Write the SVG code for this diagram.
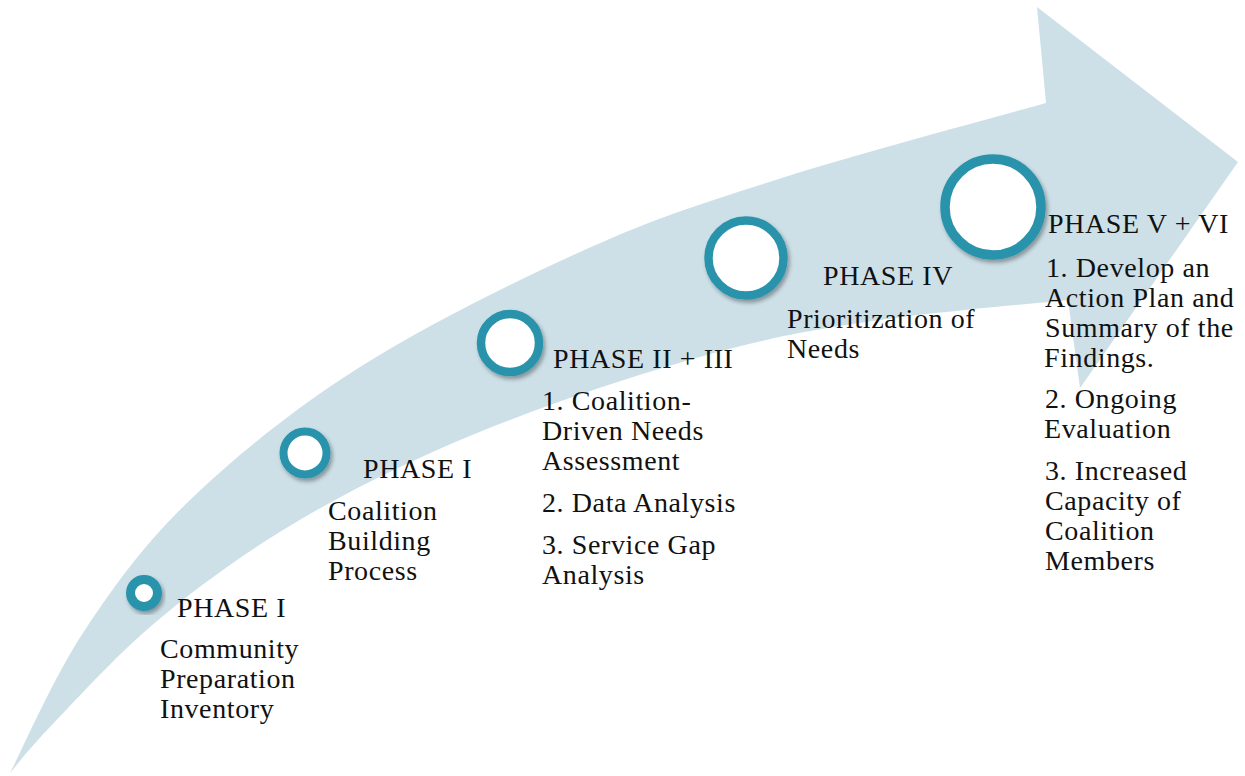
<svg xmlns="http://www.w3.org/2000/svg" width="1245" height="776" viewBox="0 0 1245 776">
  <defs>
    <filter id="shadow" x="-30%" y="-30%" width="160%" height="160%">
      <feDropShadow dx="2" dy="3" stdDeviation="2" flood-color="#000" flood-opacity="0.35"/>
    </filter>
    <style>
      .band { fill: #cde0e8; stroke: none; }
      .ring { fill: #ffffff; stroke: #2a93ac; filter: url(#shadow); }
      text { font-family: "Liberation Serif", "Times New Roman", serif; font-size: 28px; fill: #111; letter-spacing: 0.6px; }
    </style>
  </defs>
  <rect x="0" y="0" width="1245" height="776" fill="#ffffff"/>

  <g id="connectors">
    <path id="arrow" class="band" d="M 10,773 C 22.2,749.7 53,678.5 83,633 C 113,587.5 143.8,544.3 190,500 C 236.2,455.7 293.2,409.2 360,367 C 426.8,324.8 520.2,278.7 591,247 C 661.8,215.3 709.2,201 785,177 C 860.8,153 1002.5,115.3 1046,103 L 1037,7 L 1238,162 L 1080,388 L 1068,300 C 1036.7,303.3 935.8,312 880,320 C 824.2,328 787.5,334 733,348 C 678.5,362 608.5,384.2 553,404 C 497.5,423.8 447.7,444.3 400,467 C 352.3,489.7 308.7,513.3 267,540 C 225.3,566.7 186.2,595.8 150,627 C 113.8,658.2 73.3,702.7 50,727 C 26.7,751.3 16.7,765.3 10,773 Z"/>
  </g>

  <g id="phase1-community">
    <circle class="ring" cx="144" cy="593" r="13.5" stroke-width="9"/>
    <text x="177" y="617">PHASE I</text>
    <text x="160" y="658">Community</text>
    <text x="160" y="688">Preparation</text>
    <text x="160" y="718">Inventory</text>
  </g>

  <g id="phase1-coalition">
    <circle class="ring" cx="305" cy="453" r="21.5" stroke-width="8"/>
    <text x="363" y="478">PHASE I</text>
    <text x="328" y="520">Coalition</text>
    <text x="328" y="550">Building</text>
    <text x="328" y="580">Process</text>
  </g>

  <g id="phase2-3">
    <circle class="ring" cx="510" cy="343" r="29" stroke-width="8.5"/>
    <text x="553" y="368">PHASE II + III</text>
    <text x="542" y="410">1. Coalition-</text>
    <text x="542" y="440">Driven Needs</text>
    <text x="542" y="470">Assessment</text>
    <text x="542" y="512">2. Data Analysis</text>
    <text x="542" y="554">3. Service Gap</text>
    <text x="542" y="584">Analysis</text>
  </g>

  <g id="phase4">
    <circle class="ring" cx="746" cy="258" r="37.5" stroke-width="8.5"/>
    <text x="823" y="285">PHASE IV</text>
    <text x="787" y="328">Prioritization of</text>
    <text x="787" y="358">Needs</text>
  </g>

  <g id="phase5-6">
    <circle class="ring" cx="993" cy="207" r="48" stroke-width="9.5"/>
    <text x="1048" y="233">PHASE V + VI</text>
    <text x="1046" y="277">1. Develop an</text>
    <text x="1045" y="307">Action Plan and</text>
    <text x="1045" y="337">Summary of the</text>
    <text x="1044" y="367">Findings.</text>
    <text x="1045" y="408">2. Ongoing</text>
    <text x="1044" y="438">Evaluation</text>
    <text x="1045" y="480">3. Increased</text>
    <text x="1045" y="510">Capacity of</text>
    <text x="1045" y="540">Coalition</text>
    <text x="1045" y="570">Members</text>
  </g>
</svg>
